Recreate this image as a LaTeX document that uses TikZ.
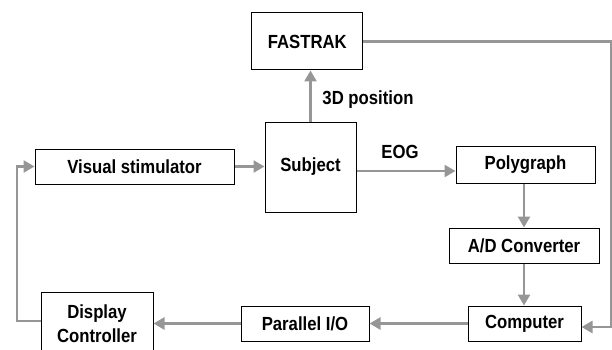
\documentclass[tikz,border=0pt]{standalone}
\usepackage{fontspec}
\setmainfont{Liberation Sans}[FakeStretch=0.88]
\usetikzlibrary{arrows.meta}
\definecolor{lgray}{RGB}{150,150,150}
\tikzset{
  blk/.style={draw=black, line width=1pt, fill=white, inner sep=0pt, align=center,
    font=\fontsize{19}{24}\selectfont\bfseries},
  conn/.style={draw=lgray, line width=2.5pt},
  arr/.style={conn, -{Triangle[length=11pt,width=12pt]}},
  lbl/.style={font=\fontsize{19}{24}\selectfont\bfseries, inner sep=0pt}
}
\begin{document}
\begin{tikzpicture}[x=1pt,y=-1pt]
\useasboundingbox (0,0) rectangle (612,350);
\node[blk, minimum width=111pt, minimum height=57pt] (fastrak) at (307.3,41.5) {FASTRAK};
\node[blk, minimum width=91pt, minimum height=90pt] (subj) at (310.5,167) {Subject};
\node[blk, minimum width=199pt, minimum height=35pt] (vis) at (134.5,166.5) {Visual stimulator};
\node[blk, minimum width=139pt, minimum height=37pt] (poly) at (525.5,164.5) {Polygraph};
\node[blk, minimum width=150pt, minimum height=35pt] (ad) at (524,245.5) {A/D Converter};
\node[blk, minimum width=113pt, minimum height=35pt] (comp) at (524.5,323.5) {Computer};
\node[blk, minimum width=128pt, minimum height=35pt] (par) at (305,323.5) {Parallel I/O};
\node[blk, minimum width=112pt, minimum height=64pt] (disp) at (97,324) {Display\\Controller};
\node[lbl] (pos) at (368,100) {3D position};
\node[lbl] (eog) at (400,152) {EOG};
\coordinate (rt) at (611,0);
\coordinate (lf) at (17,0);
\draw[arr] (vis.east) -- (vis.east -| subj.west);
\draw[arr] ([yshift=-4pt]subj.east) -- ([yshift=-4pt]subj.east -| poly.west);
\draw[arr] (subj.north) -- (subj.north |- fastrak.south);
\draw[arr] (ad.north |- poly.south) -- (ad.north);
\draw[arr] (ad.south) -- (ad.south |- comp.north);
\draw[arr] (fastrak.east) -- (fastrak.east -| rt) -- ([yshift=-3.5pt]comp.east -| rt) -- ([yshift=-3.5pt]comp.east);
\draw[arr] (comp.west) -- (comp.west -| par.east);
\draw[arr] (par.west) -- (par.west -| disp.east);
\draw[arr] ([yshift=3pt]disp.west) -- ([yshift=3pt]disp.west -| lf) -- (vis.west -| lf) -- (vis.west);
\end{tikzpicture}
\end{document}
